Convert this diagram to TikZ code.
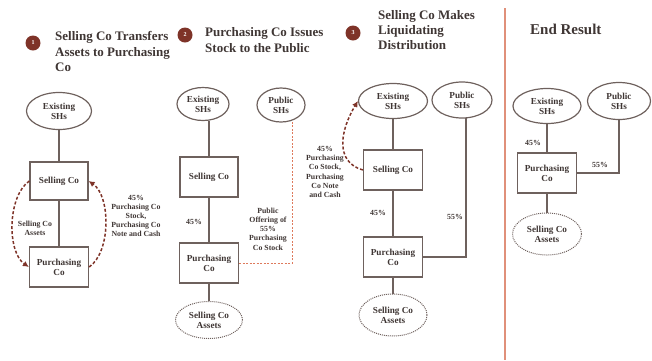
\documentclass[tikz,border=0pt]{standalone}
\usepackage{fontspec}
\setmainfont{Liberation Serif}
\usetikzlibrary{shapes.geometric,arrows.meta}

\definecolor{inkc}{HTML}{3F3634}
\definecolor{linec}{HTML}{6E615D}
\definecolor{maroonc}{HTML}{7E3328}
\definecolor{salmonc}{HTML}{DE7A5C}
\definecolor{dividerc}{HTML}{E0907A}

\newcommand{\headfont}{\fontsize{13}{15.2}\selectfont\bfseries}
\newcommand{\nodefont}{\fontsize{9.2}{10.2}\selectfont\bfseries}
\newcommand{\lblfont}{\fontsize{7.8}{9.2}\selectfont\bfseries}

\tikzset{
  holder/.style={ellipse, draw=linec, line width=1.2pt, inner sep=0pt,
    align=center, font=\nodefont, text=inkc},
  assetsbox/.style={ellipse, draw=linec, line width=1pt, densely dotted,
    inner sep=0pt, align=center, font=\nodefont, text=inkc},
  cobox/.style={rectangle, draw=linec, line width=1.3pt, inner sep=0pt,
    minimum width=59pt, minimum height=40pt, align=center,
    font=\nodefont, text=inkc},
  link/.style={draw=linec, line width=1.2pt},
  flow/.style={draw=maroonc, line width=1.5pt, dash pattern=on 3pt off 2pt,
    -{Latex[length=6pt,width=6pt]}},
  offer/.style={draw=salmonc, line width=1pt, dash pattern=on 2pt off 1.5pt},
  lbl/.style={font=\lblfont, text=inkc, align=center, inner sep=0pt},
  stepdot/.style={circle, fill=maroonc, minimum size=15pt, inner sep=0pt,
    text=white, font=\fontsize{6}{6}\selectfont\bfseries},
  headtxt/.style={font=\headfont, text=inkc, align=left, inner sep=0pt,
    anchor=west},
  divider/.style={draw=dividerc, line width=1.5pt}
}

\begin{document}
\begin{tikzpicture}[x=1pt, y=-1pt]
\useasboundingbox (0,0) rectangle (652,360);

% ---------- headings ----------
\node[stepdot] (n1) at (33,43) {1};
\node[headtxt] (h1) at (55,51.5) {Selling Co Transfers\\Assets to Purchasing\\Co};
\node[stepdot] (n2) at (185,35) {2};
\node[headtxt] (h2) at (205,40) {Purchasing Co Issues\\Stock to the Public};
\node[stepdot] (n3) at (353,33) {3};
\node[headtxt] (h3) at (378,30) {Selling Co Makes\\Liquidating\\Distribution};
\node[headtxt, font=\fontsize{15}{17}\selectfont\bfseries] (h4) at (530,29) {End Result};

\draw[divider] (505,8) -- (505,360);

% ---------- step 1 ----------
\node[holder, minimum width=65pt, minimum height=37pt] (e1) at (59,111) {Existing\\SHs};
\node[cobox, minimum width=58pt, minimum height=38pt] (s1) at (59,181) {Selling Co};
\node[cobox] (p1) at (59,267) {Purchasing\\Co};
\draw[link] (e1) -- (s1);
\draw[link] (s1) -- (p1);
\draw[flow] (s1.west) .. controls +(-22,15) and +(-22,-15) .. (p1.west);
\draw[flow] (p1.east) .. controls +(22,-15) and +(22,15) .. (s1.east);
\node[lbl] (l1a) at (35,228) {Selling Co\\Assets};
\node[lbl] (l1b) at (136,216) {45\%\\Purchasing Co\\Stock,\\Purchasing Co\\Note and Cash};

% ---------- step 2 ----------
\node[holder, minimum width=52pt, minimum height=33pt] (e2) at (203,104) {Existing\\SHs};
\node[holder, minimum width=48pt, minimum height=34pt] (pub2) at (281,105) {Public\\SHs};
\node[cobox, minimum width=58pt] (s2) at (209,177) {Selling Co};
\node[cobox] (p2) at (209,263) {Purchasing\\Co};
\node[assetsbox, minimum width=67pt, minimum height=37pt] (a2) at (209,320) {Selling Co\\Assets};
\draw[link] (s2.north) -- (s2.north |- e2.south);
\draw[link] (s2) -- (p2);
\draw[link] (p2) -- (a2);
\draw[offer] (p2.east) -| (pub2.-54);
\node[lbl] (l2a) at (194,222) {45\%};
\node[lbl] (l2b) at (268,229) {Public\\Offering of\\55\%\\Purchasing\\Co Stock};

% ---------- step 3 ----------
\node[holder, minimum width=69pt, minimum height=35pt] (e3) at (393,101) {Existing\\SHs};
\node[holder, minimum width=60pt, minimum height=36pt] (pub3) at (462,100) {Public\\SHs};
\node[cobox] (s3) at (393,170) {Selling Co};
\node[cobox] (p3) at (393,257) {Purchasing\\Co};
\node[assetsbox, minimum width=68pt, minimum height=42pt] (a3) at (393,315) {Selling Co\\Assets};
\draw[link] (e3) -- (s3);
\draw[link] (s3) -- (p3);
\draw[link] (p3) -- (a3);
\draw[link] (p3.east) -| (pub3.-78);
\draw[flow] (s3.west) .. controls +(-28,-8) and +(-18,30) .. (e3.west);
\node[lbl] (l3a) at (325,172) {45\%\\Purchasing\\Co Stock,\\Purchasing\\Co Note\\and Cash};
\node[lbl] (l3b) at (378,213) {45\%};
\node[lbl] (l3c) at (455,217) {55\%};

% ---------- end result ----------
\node[holder, minimum width=68pt, minimum height=35pt] (e4) at (547,106) {Existing\\SHs};
\node[holder, minimum width=63pt, minimum height=37pt] (pub4) at (619,101) {Public\\SHs};
\node[cobox] (p4) at (547,173) {Purchasing\\Co};
\node[assetsbox, minimum width=69pt, minimum height=42pt] (a4) at (547,234) {Selling Co\\Assets};
\draw[link] (e4) -- (p4);
\draw[link] (p4) -- (a4);
\draw[link] (p4.east) -| (pub4.south);
\node[lbl] (l4a) at (533,143) {45\%};
\node[lbl] (l4b) at (600,165) {55\%};
\end{tikzpicture}
\end{document}
